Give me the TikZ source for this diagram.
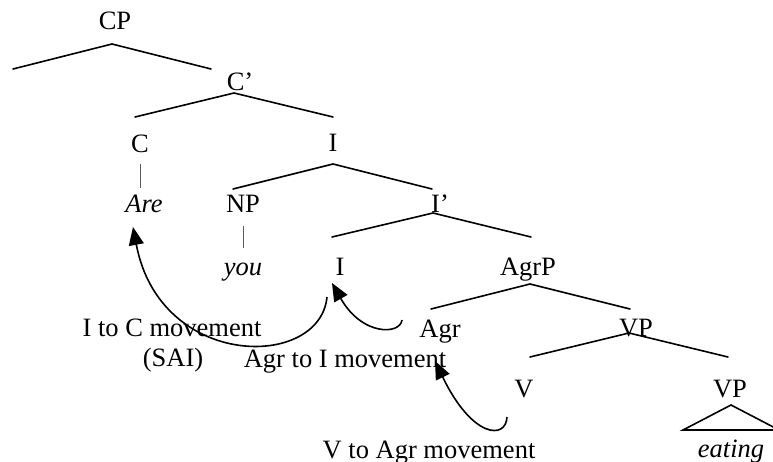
\documentclass[tikz,border=0pt]{standalone}
\usepackage{fontspec}
\setmainfont{Liberation Serif}
\usetikzlibrary{arrows.meta}
\begin{document}
\begin{tikzpicture}[x=1pt,y=-1pt,
  lbl/.style={inner sep=0pt, anchor=base, font=\fontsize{26.5}{30}\selectfont},
  ilbl/.style={lbl, font=\fontsize{26.5}{30}\selectfont\itshape},
  branch/.style={line width=1.6pt, line cap=round},
  bar/.style={line width=1pt, gray!70!black},
  mv/.style={line width=1.6pt, -{Triangle[length=18pt,width=15pt]}}
]
\useasboundingbox (0,0) rectangle (773,462);
% tree labels
\node[lbl] (CP) at (115,30) {CP};
\node[lbl] (Cbar) at (240,91) {C’};
\node[lbl] (C) at (140,153) {C};
\node[lbl] (IP) at (333,152) {I};
\node[ilbl] (Are) at (144,213) {Are};
\node[lbl] (NP) at (243,213) {NP};
\node[lbl] (Ibar) at (440,213) {I’};
\node[ilbl] (you) at (243,275) {you};
\node[lbl] (I) at (340,275) {I};
\node[lbl] (AgrP) at (528,275) {AgrP};
\node[lbl] (Agr) at (440,337) {Agr};
\node[lbl] (VPa) at (636,336) {VP};
\node[lbl] (V) at (524,397) {V};
\node[lbl] (VPb) at (730,397) {VP};
\node[ilbl] (eating) at (731,457) {eating};
% movement labels
\node[lbl] (ItoC) at (172,336) {I to C movement};
\node[lbl] (SAI) at (173,366) {(SAI)};
\node[lbl] (AgrtoI) at (345,367) {Agr to I movement};
\node[lbl] (VtoAgr) at (429,458) {V to Agr movement};
% branch coordinates
\coordinate (cpA) at (112,44);  \coordinate (cpL) at (13,69);   \coordinate (cpR) at (211,69);
\coordinate (cbA) at (234,93);  \coordinate (cbL) at (135,117); \coordinate (cbR) at (333,117);
\coordinate (ipA) at (333,164); \coordinate (ipL) at (233,189); \coordinate (ipR) at (432,189);
\coordinate (ibA) at (433,213); \coordinate (ibL) at (332,237); \coordinate (ibR) at (531,237);
\coordinate (apA) at (530,284); \coordinate (apL) at (431,309); \coordinate (apR) at (630,309);
\coordinate (vpA) at (629,333); \coordinate (vpL) at (530,357); \coordinate (vpR) at (728,357);
\coordinate (trA) at (731,405); \coordinate (trL) at (683,430); \coordinate (trR) at (779,430);
\draw[branch] (cpL) -- (cpA) -- (cpR);
\draw[branch] (cbL) -- (cbA) -- (cbR);
\draw[branch] (ipL) -- (ipA) -- (ipR);
\draw[branch] (ibL) -- (ibA) -- (ibR);
\draw[branch] (apL) -- (apA) -- (apR);
\draw[branch] (vpL) -- (vpA) -- (vpR);
\draw[branch] (trL) -- (trA) -- (trR) -- cycle;
% unary bars
\coordinate (cT) at (140,164); \coordinate (cB) at (140,188);
\coordinate (npT) at (243,226); \coordinate (npB) at (243,248);
\draw[bar] (cT) -- (cB);
\draw[bar] (npT) -- (npB);
% movement arrows
\coordinate (m1s) at (327,297); \coordinate (m1t) at (133,227);
\coordinate (m2s) at (402,320); \coordinate (m2t) at (332,283);
\coordinate (m3s) at (507,417); \coordinate (m3t) at (435,361);
\draw[mv] (m1s) .. controls (320,370) and (160,370) .. (m1t);
\draw[mv] (m2s) .. controls (400,335) and (362,336) .. (m2t);
\draw[mv] (m3s) .. controls (506,440) and (472,438) .. (m3t);
\end{tikzpicture}
\end{document}
